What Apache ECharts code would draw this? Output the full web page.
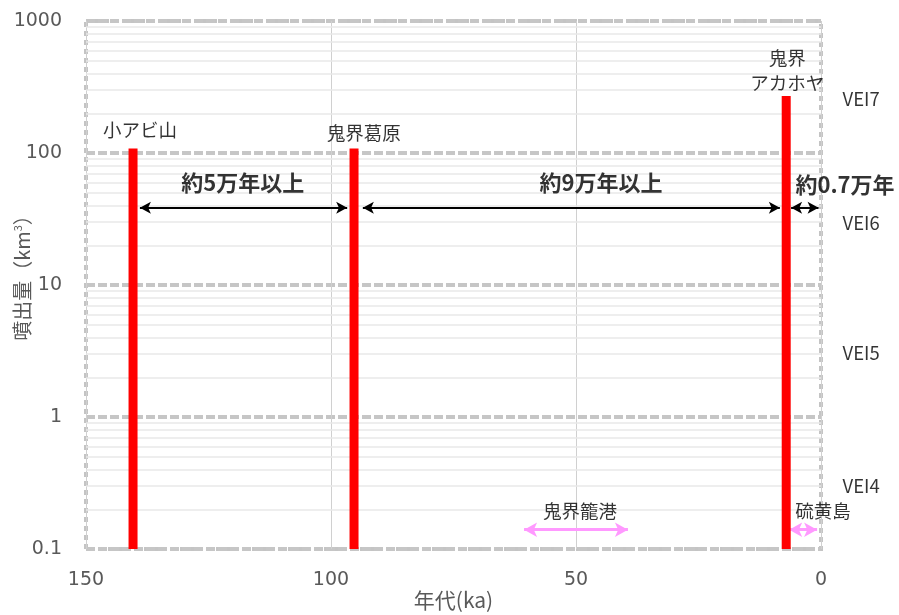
<!DOCTYPE html>
<html><head><meta charset="utf-8">
<script src="https://cdn.jsdelivr.net/npm/echarts@6/dist/echarts.min.js"></script>
<style>html,body{margin:0;padding:0;background:#fff}#c{width:899px;height:615px}</style>
</head><body><div id="c"></div>
<script>
// Eruptions (bars)
const eruptionNames = ['小アビ山', '鬼界葛原', '鬼界アカホヤ'];
const eruptionAgeKa = [140.4, 95.3, 7.1];
const eruptionVolume = [108, 108, 270];

// Minor log grid values
const minorGridValues = [0.2,0.3,0.4,0.5,0.6,0.7,0.8,0.9, 2,3,4,5,6,7,8,9, 20,30,40,50,60,70,80,90, 200,300,400,500,600,700,800,900];

// Text annotations (data coordinates)
const noteTexts = ['小アビ山', '鬼界葛原', '鬼界\nアカホヤ', '鬼界籠港', '硫黄島'];
const noteX = [139, 93.3, 6.9, 49.2, -0.4];
const noteY = [150, 142, 420, 0.194, 0.194];

const veiTexts = ['VEI7', 'VEI6', 'VEI5', 'VEI4'];
const veiX = [-8.2, -8.2, -8.2, -8.2];
const veiY = [257, 29.5, 3.06, 0.30];

const intervalTexts = ['約5万年以上', '約9万年以上', '約0.7万年'];
const intervalX = [118, 44.9, -4.9];
const intervalY = [60, 60, 58];

// Double arrows: [fromKa, toKa, value]
const blackArrowFrom = [139, 93.5, 6.1];
const blackArrowTo = [96.7, 8.4, 0.5];
const blackArrowY = [38.5, 38.5, 38.5];

const pinkArrowFrom = [60.6, 6.5];
const pinkArrowTo = [39.4, 0.8];
const pinkArrowY = [0.14, 0.14];

const xTicks = [150, 100, 50, 0];

const FONT = '"Noto Sans CJK JP", "Noto Sans", sans-serif';
const NUMFONT = '"DejaVu Sans", "Noto Sans CJK JP", sans-serif';

function arrowLines(from, to, ys) {
  return from.map((f, i) => [{ coord: [f, ys[i]] }, { coord: [to[i], ys[i]] }]);
}

const chart = echarts.init(document.getElementById('c'));
chart.setOption({
  animation: false,
  backgroundColor: '#ffffff',
  textStyle: { fontFamily: FONT },
  grid: {
    left: 86, right: 78, top: 21, bottom: 66,
    outerBoundsMode: 'none', containLabel: false,
    show: true, borderColor: '#c4c4c4', borderWidth: 4, borderType: [5, 4],
    backgroundColor: 'transparent'
  },
  xAxis: {
    type: 'value', min: 0, max: 150, interval: 50, inverse: true,
    name: '年代(ka)', nameLocation: 'middle', nameGap: 41, nameMoveOverlap: false,
    nameTextStyle: { color: '#595959', fontSize: 21, fontFamily: FONT },
    axisLine: { show: false }, axisTick: { show: false },
    axisLabel: { color: '#595959', fontSize: 19, margin: 22, fontFamily: NUMFONT },
    splitLine: { show: true, lineStyle: { color: '#d0d0d0', width: 1 } }
  },
  yAxis: {
    type: 'log', logBase: 10, min: 0.1, max: 1000,
    name: '噴出量（km{sup|3}）', nameLocation: 'middle', nameGap: 54, nameMoveOverlap: false,
    nameTextStyle: { color: '#595959', fontSize: 20, fontFamily: FONT, padding: [0, 0, 0, 24],
      rich: { sup: { fontSize: 11, verticalAlign: 'top', color: '#595959', padding: [0,0,8,0] } } },
    axisLine: { show: false }, axisTick: { show: false },
    axisLabel: { color: '#595959', fontSize: 19, margin: 24, fontFamily: NUMFONT,
      formatter: v => String(+v.toPrecision(3)) },
    splitLine: { show: true, lineStyle: { color: '#c6c6c6', width: 4, type: [9, 3] } }
  },
  series: [
    {
      type: 'scatter', data: [], z: 1, silent: true,
      markLine: {
        silent: true, symbol: ['none', 'none'], label: { show: false },
        lineStyle: { color: '#e8e8e8', width: 1.5, type: 'solid' },
        data: minorGridValues.map(v => ({ yAxis: v }))
      }
    },
    {
      type: 'custom', z: 5,
      data: eruptionAgeKa.map((x, i) => [x, eruptionVolume[i]]),
      renderItem: function (params, api) {
        const top = api.coord([api.value(0), api.value(1)]);
        const bot = api.coord([api.value(0), 0.1]);
        return { type: 'rect', shape: { x: top[0] - 4.5, y: top[1], width: 9, height: bot[1] - top[1] },
          style: { fill: '#ff0000' } };
      }
    },
    {
      type: 'scatter', data: [], z: 6, silent: true,
      markLine: {
        silent: true, symbol: ['arrow', 'arrow'], symbolSize: [9, 11], label: { show: false },
        lineStyle: { color: '#000000', width: 2, type: 'solid' },
        data: arrowLines(blackArrowFrom, blackArrowTo, blackArrowY)
      }
    },
    {
      type: 'scatter', data: [], z: 6, silent: true,
      markLine: {
        silent: true, symbol: ['arrow', 'arrow'], symbolSize: [11, 13], label: { show: false },
        lineStyle: { color: '#ff99ff', width: 3, type: 'solid' },
        data: arrowLines(pinkArrowFrom, pinkArrowTo, pinkArrowY)
      }
    },
    {
      type: 'scatter', z: 7, silent: true, clip: false, symbolSize: 1,
      itemStyle: { color: 'transparent' },
      data: noteX.map((x, i) => [x, noteY[i], noteTexts[i]]),
      label: { show: true, position: 'inside', color: '#000', fontSize: 18.5, lineHeight: 25,
        fontFamily: FONT, formatter: p => p.data[2] }
    },
    {
      type: 'scatter', z: 7, silent: true, clip: false, symbolSize: 1,
      itemStyle: { color: 'transparent' },
      data: veiX.map((x, i) => [x, veiY[i], veiTexts[i]]),
      label: { show: true, position: 'inside', color: '#000', fontSize: 18.5,
        fontFamily: FONT, formatter: p => p.data[2] }
    },
    {
      type: 'scatter', z: 7, silent: true, clip: false, symbolSize: 1,
      itemStyle: { color: 'transparent' },
      data: intervalX.map((x, i) => [x, intervalY[i], intervalTexts[i]]),
      label: { show: true, position: 'inside', color: '#000', fontSize: 22, fontWeight: 'bold',
        fontFamily: FONT, formatter: p => p.data[2] }
    }
  ]
});
</script>
</body></html>
